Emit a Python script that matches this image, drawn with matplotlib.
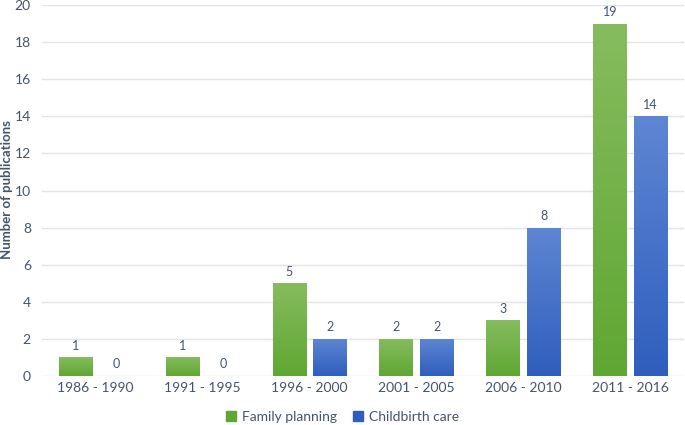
# Publications per period: family planning vs childbirth care
import numpy as np
import matplotlib.pyplot as plt
from matplotlib.patches import Patch

plt.rcParams['font.family'] = ['Lato', 'DejaVu Sans']

periods = ["1986 - 1990", "1991 - 1995", "1996 - 2000", "2001 - 2005", "2006 - 2010", "2011 - 2016"]
family_planning = [1, 1, 5, 2, 3, 19]
childbirth_care = [0, 0, 2, 2, 8, 14]

green_top, green_bot = "#86bc5e", "#5fa733"
blue_top, blue_bot = "#5e86d3", "#2f5ebd"
text_col = "#44546a"

fig = plt.figure(figsize=(6.85, 4.25), dpi=100)
ax = fig.add_axes([0.0613, 0.1153, 0.937, 0.8727])

x = np.arange(len(periods))
w = 0.31
off = 0.19


def grad_bars(xpos, vals, top, bot, label):
    bars = ax.bar(xpos, vals, w, color=bot, label=label, zorder=2, edgecolor="none")
    cmap = plt.matplotlib.colors.LinearSegmentedColormap.from_list("g", [bot, top])
    grad = np.linspace(0, 1, 256).reshape(-1, 1)
    for b in bars:
        h = b.get_height()
        if h <= 0:
            continue
        x0 = b.get_x()
        im = ax.imshow(grad, cmap=cmap, origin="lower", aspect="auto",
                       extent=[x0, x0 + b.get_width(), 0, h], zorder=3)
        im.set_clip_path(b)
    for xi, v in zip(xpos, vals):
        ax.text(xi, v + 0.3, str(v), ha="center", va="bottom", fontsize=9, color=text_col, zorder=4)
    return bars


grad_bars(x - off, family_planning, green_top, green_bot, "Family planning")
grad_bars(x + off, childbirth_care, blue_top, blue_bot, "Childbirth care")

ax.set_xlim(-0.5, len(periods) - 0.5)
ax.set_ylim(0, 20)
ax.set_yticks(range(0, 21, 2))
ax.set_xticks(x)
ax.set_xticklabels(periods)
ax.tick_params(axis="both", length=0, labelsize=10, labelcolor=text_col)
ax.tick_params(axis="y", pad=8)
ax.tick_params(axis="x", pad=4)
ax.grid(axis="y", color="#e2e4e8", linewidth=1, zorder=0)
for s in ax.spines.values():
    s.set_visible(False)

fig.text(7 / 685, 0.553, "Number of publications", rotation=90, ha="center", va="center",
         fontsize=9.5, fontweight="bold", color=text_col)

handles = [Patch(color=green_bot, label="Family planning"), Patch(color=blue_bot, label="Childbirth care")]
fig.legend(handles=handles, loc="lower center", bbox_to_anchor=(0.5, -0.025), ncol=2, frameon=False,
           fontsize=10, handlelength=0.7, handleheight=0.7, handletextpad=0.4, columnspacing=1.2,
           labelcolor=text_col)

plt.savefig("out.png", dpi=100)
